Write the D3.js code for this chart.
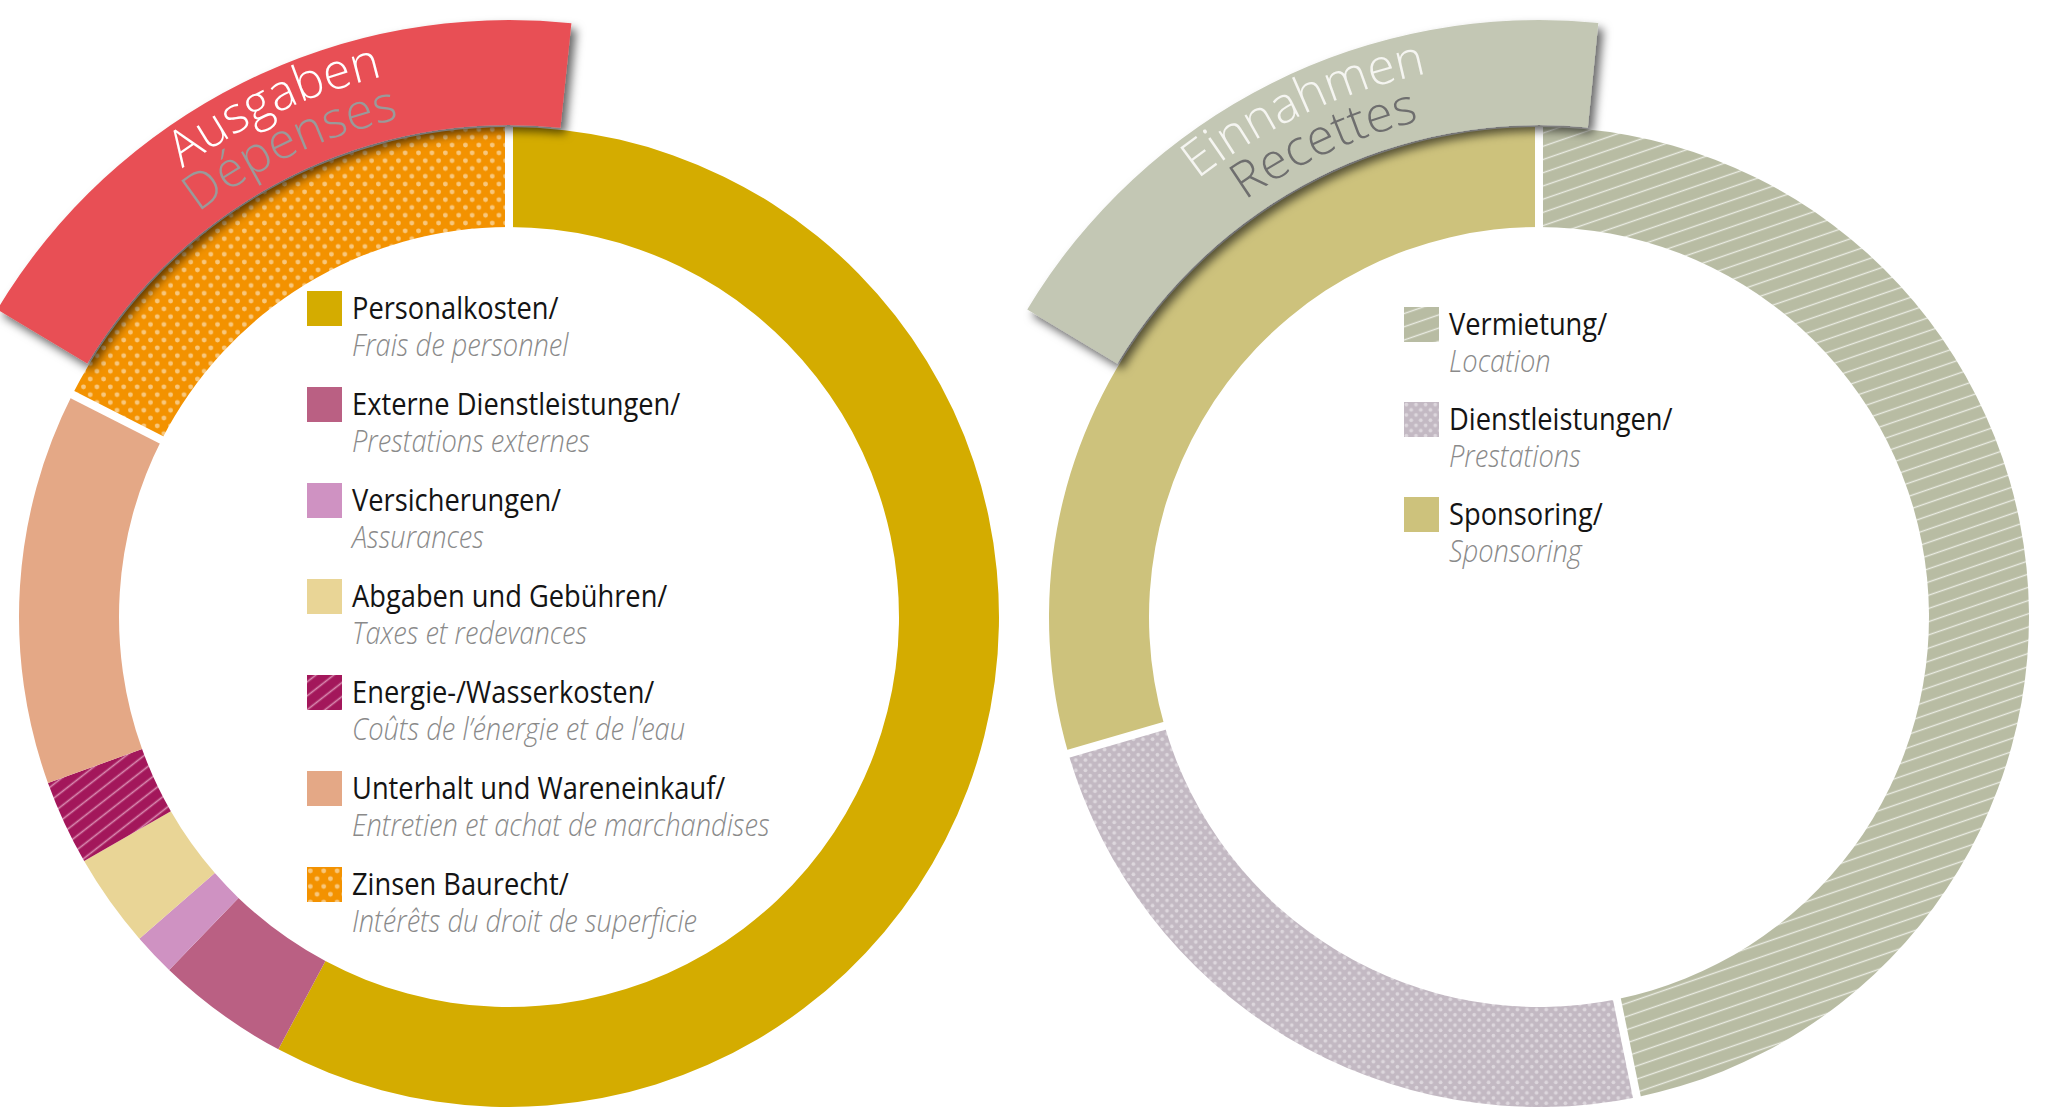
<!DOCTYPE html>
<html lang="de">
<head>
  <meta charset="UTF-8">
  <title>Ausgaben / Einnahmen</title>
  <script src="https://d3js.org/d3.v7.min.js"></script>
  <style>
    body {
      margin: 0;
      background-color: #ffffff;
    }
    .legend-de {
      font-family: "Open Sans", "Noto Sans", sans-serif;
      font-size: 31px;
      fill: #141414;
    }
    .legend-fr {
      font-family: "Open Sans", "Noto Sans", sans-serif;
      font-size: 31px;
      font-style: italic;
      font-weight: 300;
      fill: #8a8a8a;
    }
    .band-title {
      font-family: "Open Sans", "Lato", sans-serif;
      font-size: 50px;
      font-weight: 300;
    }
  </style>
</head>
<body>
  <svg id="chart" width="2058" height="1109"></svg>

  <script>
    // Ausgaben / Dépenses (share of total, %)
    const ausgabenLabelsDe = ["Personalkosten/", "Externe Dienstleistungen/", "Versicherungen/",
      "Abgaben und Gebühren/", "Energie-/Wasserkosten/", "Unterhalt und Wareneinkauf/", "Zinsen Baurecht/"];
    const ausgabenLabelsFr = ["Frais de personnel", "Prestations externes", "Assurances",
      "Taxes et redevances", "Coûts de l’énergie et de l’eau", "Entretien et achat de marchandises",
      "Intérêts du droit de superficie"];
    const ausgabenShares = [57.8, 4.4, 1.4, 3.1, 2.8, 13.0, 17.5];

    // Einnahmen / Recettes
    const einnahmenLabelsDe = ["Vermietung/", "Dienstleistungen/", "Sponsoring/"];
    const einnahmenLabelsFr = ["Location", "Prestations", "Sponsoring"];
    const einnahmenShares = [46.8, 23.7, 29.5];

    const titles = [
      { de: "Ausgaben", fr: "Dépenses" },
      { de: "Einnahmen", fr: "Recettes" }
    ];

    const svg = d3.select("#chart");
    const defs = svg.append("defs");
    const deg = Math.PI / 180;

    // --- patterns ---
    function dotPattern(id, bg, dot, w, h, r) {
      const p = defs.append("pattern").attr("id", id)
        .attr("patternUnits", "userSpaceOnUse").attr("width", w).attr("height", h);
      p.append("rect").attr("width", w).attr("height", h).attr("fill", bg);
      [[w / 4, h / 4], [w * 3 / 4, h * 3 / 4]].forEach(([x, y]) => {
        p.append("circle").attr("cx", x).attr("cy", y).attr("r", r).attr("fill", dot);
      });
    }
    function stripePattern(id, bg, line, size, angle, width) {
      const p = defs.append("pattern").attr("id", id)
        .attr("patternUnits", "userSpaceOnUse").attr("width", size).attr("height", size)
        .attr("patternTransform", `rotate(${angle})`);
      p.append("rect").attr("width", size).attr("height", size).attr("fill", bg);
      p.append("line").attr("x1", 0).attr("x2", size).attr("y1", size / 2).attr("y2", size / 2)
        .attr("stroke", line).attr("stroke-width", width);
    }
    dotPattern("dots-orange", "#f39200", "#f8c77c", 13.4, 15.6, 2.4);
    dotPattern("dots-mauve", "#c3b9c3", "#ddd7dd", 9.6, 10.4, 1.9);
    stripePattern("stripes-wine", "#a3175b", "#d98ab0", 11, -38, 1.6);
    stripePattern("stripes-sage", "#b8bca3", "#e9ebe2", 12.5, -19, 1.4);

    const shadow = defs.append("filter").attr("id", "band-shadow")
      .attr("x", "-20%").attr("y", "-20%").attr("width", "140%").attr("height", "140%");
    shadow.append("feDropShadow").attr("dx", 5).attr("dy", 6).attr("stdDeviation", 5)
      .attr("flood-color", "#000").attr("flood-opacity", 0.6);

    const ausgabenFills = ["#d4ac00", "#ba6083", "#cf92c2", "#e9d596",
      "url(#stripes-wine)", "#e4a886", "url(#dots-orange)"];
    const einnahmenFills = ["url(#stripes-sage)", "url(#dots-mauve)", "#cdc27c"];

    const pie = d3.pie().sort(null).value(d => d);
    const ringArc = d3.arc().innerRadius(390).outerRadius(490);
    const bandArc = d3.arc().innerRadius(492).outerRadius(597);

    function drawDonut(cx, cy, shares, fills, separators, title, bandFill, frFill, deFill, bandStart, bandEnd, titleAngle) {
      const g = svg.append("g").attr("transform", `translate(${cx},${cy})`);
      const slices = pie(shares);

      g.selectAll("path.slice")
        .data(slices)
        .join("path")
        .attr("class", "slice")
        .attr("d", ringArc)
        .attr("fill", (d, i) => fills[i]);

      // white gaps at some slice boundaries
      g.selectAll("line.sep")
        .data(slices.filter((d, i) => separators[i]))
        .join("line")
        .attr("class", "sep")
        .attr("x1", d => 384 * Math.sin(d.startAngle))
        .attr("y1", d => -384 * Math.cos(d.startAngle))
        .attr("x2", d => 496 * Math.sin(d.startAngle))
        .attr("y2", d => -496 * Math.cos(d.startAngle))
        .attr("stroke", "#fff")
        .attr("stroke-width", 8);

      // header band
      g.append("path")
        .attr("d", bandArc({ startAngle: bandStart * deg, endAngle: bandEnd * deg }))
        .attr("fill", bandFill)
        .attr("filter", "url(#band-shadow)");

      const lines = [
        { text: title.de, r: 555, fill: deFill, id: "t-" + title.de, at: titleAngle[0] },
        { text: title.fr, r: 510, fill: frFill, id: "t-" + title.fr, at: titleAngle[1] }
      ];
      lines.forEach(l => {
        const p = d3.path();
        p.arc(0, 0, l.r, (l.at - 45) * deg - Math.PI / 2, (l.at + 45) * deg - Math.PI / 2, false);
        g.append("path").attr("id", l.id).attr("d", p.toString()).attr("fill", "none");
        g.append("text")
          .attr("class", "band-title")
          .attr("fill", l.fill)
          .append("textPath")
          .attr("href", "#" + l.id)
          .attr("startOffset", "50%")
          .attr("text-anchor", "middle")
          .text(l.text);
      });
    }

    function drawLegend(x, y, step, labelsDe, labelsFr, fills) {
      const rows = svg.append("g")
        .selectAll("g")
        .data(labelsDe)
        .join("g")
        .attr("transform", (d, i) => `translate(${x},${y + i * step})`);
      rows.append("rect")
        .attr("width", 35).attr("height", 35)
        .attr("fill", (d, i) => fills[i]);
      rows.append("text")
        .attr("class", "legend-de")
        .attr("transform", "translate(45,28) scale(0.88,1)")
        .text(d => d);
      rows.append("text")
        .attr("class", "legend-fr")
        .attr("transform", "translate(45,65) scale(0.88,1)")
        .text((d, i) => labelsFr[i]);
    }

    drawDonut(509, 617, ausgabenShares, ausgabenFills,
      [true, false, false, false, false, false, true],
      titles[0], "#e85055", "#9a9a9a", "#ffffff", -59, 6, [-24.6, -25]);
    drawDonut(1539, 617, einnahmenShares, einnahmenFills,
      [true, true, true],
      titles[1], "#c3c7b4", "#6e6e6e", "#f5f5f1", -59, 5.7, [-24.8, -24.4]);

    drawLegend(307, 291, 96, ausgabenLabelsDe, ausgabenLabelsFr, ausgabenFills);
    drawLegend(1404, 307, 95, einnahmenLabelsDe, einnahmenLabelsFr, einnahmenFills);
  </script>
</body>
</html>
